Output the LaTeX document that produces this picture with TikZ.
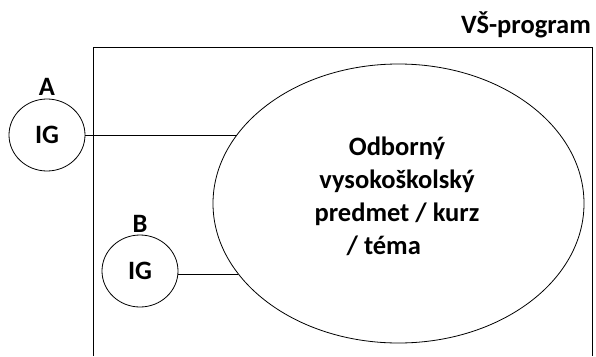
\documentclass[tikz,border=0pt]{standalone}
\usepackage{fontspec}
\setmainfont{Carlito}
\usetikzlibrary{shapes.geometric}
\begin{document}
\begin{tikzpicture}[x=1pt,y=-1pt,
  lbl/.style={font=\bfseries\fontsize{26.5}{32}\selectfont, inner sep=0pt},
  igc/.style={draw, ellipse, minimum width=76pt, minimum height=72pt, line width=0.8pt, font=\bfseries\fontsize{26.5}{32}\selectfont, inner sep=0pt},
  conn/.style={line width=0.8pt}]
\useasboundingbox (0,0) rectangle (596,356);
\draw[line width=0.9pt] (93,356) -- (93,47) -- (592,47) -- (592,356);
\node[lbl, anchor=east] (prog) at (591,25) {VŠ-program};
\node[draw, ellipse, line width=0.8pt, minimum width=371pt, minimum height=279pt, inner sep=0pt] (el) at (398.5,203.5) {};
\node[lbl, align=center, font=\bfseries\fontsize{26.5}{33}\selectfont] (txt) at (397,196) {Odborný\\vysokoškolský\\predmet / kurz\\/ téma\hspace*{1.0em}};
\node[igc] (a) at (47,135) {IG};
\node[lbl] (la) at (47,87) {A};
\node[igc] (b) at (140,271) {IG};
\node[lbl] (lb) at (140,224) {B};
\coordinate (ea) at (236.9,135);
\coordinate (eb) at (238.4,274);
\draw[conn] (a.east) -- (ea);
\draw[conn] (b.east |- eb) -- (eb);
\end{tikzpicture}
\end{document}
